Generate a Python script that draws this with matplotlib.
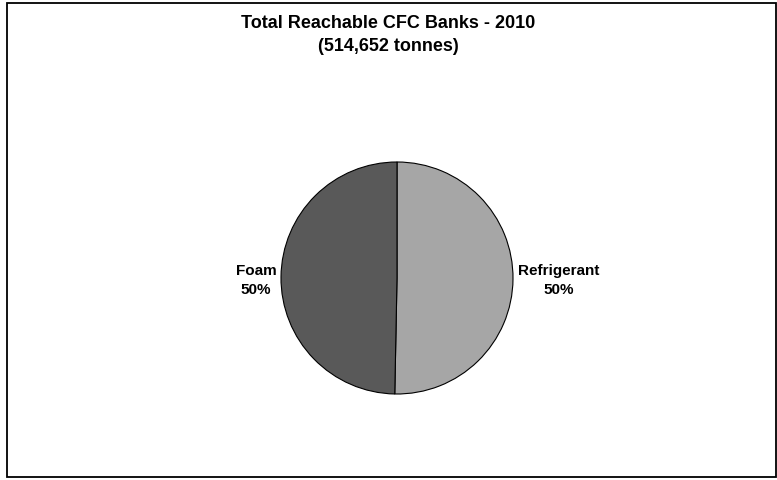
import matplotlib
matplotlib.use("Agg")
import matplotlib.pyplot as plt
from matplotlib.patches import Rectangle

# reachable CFC banks, 2010 (tonnes)
labels = ["Refrigerant", "Foam"]
tonnes = [258900, 255752]
pct_labels = ["50%", "50%"]
colors = ["#A6A6A6", "#595959"]
total_label = "514,652"

plt.rcParams["font.family"] = ["Liberation Sans", "DejaVu Sans"]

fig = plt.figure(figsize=(7.77, 4.8), dpi=100)
fig.patches.append(Rectangle((7 / 777, 3 / 480), 769 / 777, 474 / 480,
                             transform=fig.transFigure, fill=False,
                             edgecolor="black", linewidth=1.3))

# pie centred at ~(397, 278) px, radius ~116 px
ax = fig.add_axes([(397 - 116) / 777, (480 - 278 - 116) / 480,
                   232 / 777, 232 / 480])
wedges, texts = ax.pie(tonnes, colors=colors, startangle=90, counterclock=False,
                       labels=[f"{l}\n{p}" for l, p in zip(labels, pct_labels)],
                       labeldistance=1.04,
                       wedgeprops=dict(edgecolor="black", linewidth=0.8),
                       textprops=dict(fontsize=11, fontweight="bold",
                                      va="center", multialignment="center",
                                      linespacing=1.45))
# keep both labels on one level beside the pie
for t in texts:
    t.set_y(-0.02)
ax.set_xlim(-1, 1)
ax.set_ylim(-1, 1)
ax.set_aspect("equal")

fig.text(0.5, 1 - 35 / 480,
         f"Total Reachable CFC Banks - 2010\n({total_label} tonnes)",
         ha="center", va="center", fontsize=13, fontweight="bold",
         linespacing=1.45)

fig.savefig("out.png", dpi=100)
